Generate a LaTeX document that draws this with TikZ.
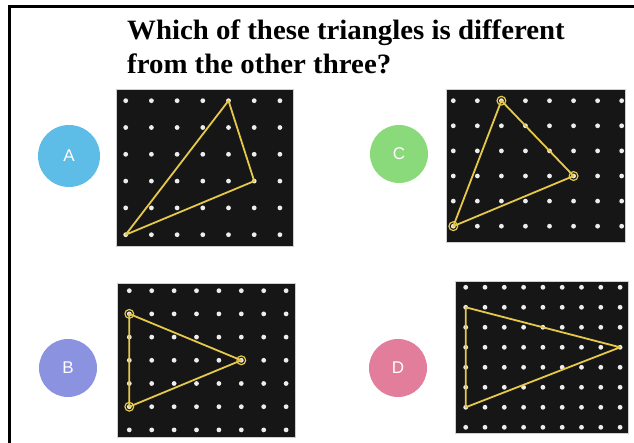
\documentclass[tikz,border=0pt]{standalone}
\usepackage{fontspec}
\setmainfont{Liberation Serif}
\newfontfamily\lettersf{Liberation Sans}
\definecolor{boardc}{HTML}{161616}
\definecolor{edgec}{HTML}{CFCFCF}
\definecolor{pegc}{HTML}{EDEDED}
\definecolor{tric}{HTML}{E6C84A}
\definecolor{cA}{HTML}{5DBDE6}
\definecolor{cB}{HTML}{8B92E0}
\definecolor{cC}{HTML}{8AD97A}
\definecolor{cD}{HTML}{E27D9C}
\newcommand\pegs[7]{%
  \foreach \i in {0,...,#6}{%
    \foreach \j in {0,...,#7}{%
      \coordinate (#1-\i-\j) at ({#2+\i*#4},{#3+\j*#5});
      \fill[pegc] (#1-\i-\j) circle (2.4);
    }}}
\begin{document}
\begin{tikzpicture}[x=1pt,y=-1pt,
  board/.style={fill=boardc,draw=edgec,line width=1pt},
  tri/.style={draw=tric,line width=1.8pt,line join=round},
  ring/.style={draw=tric,line width=1.2pt},
  badge/.style={circle,minimum size=58pt,inner sep=0pt,text=white,font=\lettersf\fontsize{17}{20}\selectfont},
  title/.style={anchor=base west,inner sep=0pt,font=\bfseries\fontsize{28}{30}\selectfont}]
\useasboundingbox (0,0) rectangle (634,443);
\fill[white] (0,0) rectangle (634,443);
\draw[line width=2.6pt] (9.5,443) -- (9.5,6.3) -- (634,6.3);

\node[title] (t1) at (127,40) {\scalebox{1.03}[1]{Which of these triangles is different}};
\node[title] (t2) at (127,74) {\scalebox{1.03}[1]{from the other three?}};

% board A
\fill[board] (116,90) rectangle (293,247);
\pegs{A}{125.7}{100.7}{25.7}{26.8}{6}{5}
\draw[tri] (A-4-0) -- (A-5-3) -- (A-0-5) -- cycle;
% board C
\fill[board] (446,90) rectangle (625,243);
\pegs{C}{453.3}{100.7}{24.05}{25.1}{7}{5}
\draw[tri] (C-2-0) -- (C-5-3) -- (C-0-5) -- cycle;
\foreach \p in {C-2-0,C-5-3,C-0-5} \draw[ring] (\p) circle (4.4);
% board B
\fill[board] (117,284) rectangle (295,437);
\pegs{B}{129.3}{290.7}{22.4}{23.2}{7}{6}
\draw[tri] (B-0-1) -- (B-5-3) -- (B-0-5) -- cycle;
\foreach \p in {B-0-1,B-5-3,B-0-5} \draw[ring] (\p) circle (4.4);
% board D
\fill[board] (455,282) rectangle (628,433);
\pegs{D}{465.7}{287.3}{19.3}{20}{8}{7}
\draw[tri] (D-0-1) -- (D-8-3) -- (D-0-6) -- cycle;

\node[badge,fill=cA,minimum size=62pt] (bA) at (69,156) {A};
\node[badge,fill=cC] (bC) at (399,154) {C};
\node[badge,fill=cB] (bB) at (68,368) {B};
\node[badge,fill=cD] (bD) at (398,368) {D};
\end{tikzpicture}
\end{document}
